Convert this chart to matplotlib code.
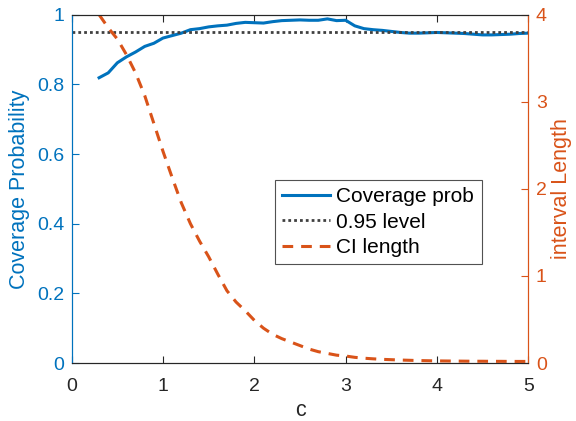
import numpy as np
import matplotlib
matplotlib.use("Agg")
import matplotlib.pyplot as plt

plt.rcParams['font.family'] = ['Liberation Sans', 'DejaVu Sans']

c_vals = [0.3, 0.4, 0.5, 0.6, 0.7, 0.8, 0.9, 1.0, 1.1, 1.2, 1.3, 1.4, 1.5, 1.6,
          1.7, 1.8, 1.9, 2.0, 2.1, 2.2, 2.3, 2.4, 2.5, 2.6, 2.7, 2.8, 2.9, 3.0,
          3.1, 3.2, 3.3, 3.4, 3.5, 3.6, 3.7, 3.8, 3.9, 4.0, 4.1, 4.2, 4.3, 4.4,
          4.5, 4.6, 4.7, 4.8, 4.9, 5.0]
coverage = [0.819, 0.833, 0.862, 0.879, 0.893, 0.909, 0.918, 0.933, 0.940, 0.947,
            0.957, 0.960, 0.965, 0.968, 0.970, 0.975, 0.978, 0.977, 0.976, 0.980,
            0.983, 0.984, 0.985, 0.984, 0.984, 0.988, 0.983, 0.984, 0.968, 0.960,
            0.957, 0.955, 0.952, 0.949, 0.947, 0.947, 0.948, 0.949, 0.948, 0.947,
            0.946, 0.944, 0.942, 0.942, 0.943, 0.944, 0.946, 0.947]
ci_length = [4.0, 3.85, 3.72, 3.54, 3.33, 3.07, 2.75, 2.43, 2.13, 1.84, 1.60, 1.40,
             1.22, 1.02, 0.83, 0.70, 0.60, 0.49, 0.40, 0.33, 0.28, 0.24, 0.20, 0.16,
             0.13, 0.11, 0.09, 0.08, 0.065, 0.055, 0.048, 0.042, 0.038, 0.034, 0.031,
             0.028, 0.026, 0.024, 0.023, 0.022, 0.021, 0.020, 0.020, 0.019, 0.019,
             0.018, 0.018, 0.018]
level = 0.95
x_ticks = [0, 1, 2, 3, 4, 5]
left_ticks = [0, 0.2, 0.4, 0.6, 0.8, 1]
left_labels = ["0", "0.2", "0.4", "0.6", "0.8", "1"]
right_ticks = [0, 1, 2, 3, 4]

blue = '#0072BD'
orange = '#D95319'
gray = '#262626'

fig = plt.figure(figsize=(5.76, 4.21), dpi=100)
ax = fig.add_axes([71.7/576, 1-363/421, (528.3-71.7)/576, (363-14.7)/421])
ax2 = ax.twinx()

l1, = ax.plot(c_vals, coverage, color=blue, lw=2.2, label='Coverage prob')
l2 = ax.axhline(level, color='#404040', lw=2.0, linestyle=(0, (1.0, 1.1)), label='0.95 level')
l3, = ax2.plot(c_vals, ci_length, color=orange, lw=2.2, linestyle=(0, (3.5, 2.6)), label='CI length')

ax.set_xlim(0, 5)
ax.set_ylim(0, 1)
ax2.set_ylim(0, 4)
ax.set_xticks(x_ticks)
ax.set_xticklabels([str(t) for t in x_ticks])
ax.set_yticks(left_ticks)
ax.set_yticklabels(left_labels)
ax2.set_yticks(right_ticks)
ax2.set_yticklabels([str(t) for t in right_ticks])

fs = 14
lfs = 15.5
ax.tick_params(axis='x', direction='in', top=True, colors=gray, labelsize=fs, length=5, width=0.8, pad=10.5)
ax.tick_params(axis='y', direction='in', colors=blue, labelsize=fs, length=5, width=0.8, pad=5.5)
ax2.tick_params(axis='y', direction='in', colors=orange, labelsize=fs, length=5, width=0.8, pad=5.5)

for s in ['top', 'bottom']:
    ax.spines[s].set_color('#262626')
    ax2.spines[s].set_color('#262626')
    ax.spines[s].set_linewidth(0.8)
    ax2.spines[s].set_linewidth(0.8)
ax2.spines['left'].set_color(blue)
ax.spines['left'].set_color(blue)
ax2.spines['right'].set_color(orange)
ax.spines['right'].set_color(orange)

ax.set_xlabel('c', fontsize=lfs, color=gray, labelpad=4)
ax.set_ylabel('Coverage Probability', fontsize=lfs, color=blue, labelpad=5)
ax2.set_ylabel('interval Length', fontsize=lfs, color=orange, labelpad=3)

leg = ax2.legend(handles=[l1, l2, l3], loc='upper left',
                 bbox_to_anchor=((275-71.7)/(528.3-71.7), 1-(180-14.7)/(363-14.7)),
                 fontsize=15, frameon=True, fancybox=False, edgecolor='#262626',
                 borderpad=0.35, handlelength=2.3, handletextpad=0.3, labelspacing=0.3,
                 borderaxespad=0)
leg.get_frame().set_linewidth(0.8)

fig.savefig('out.png', dpi=100)
